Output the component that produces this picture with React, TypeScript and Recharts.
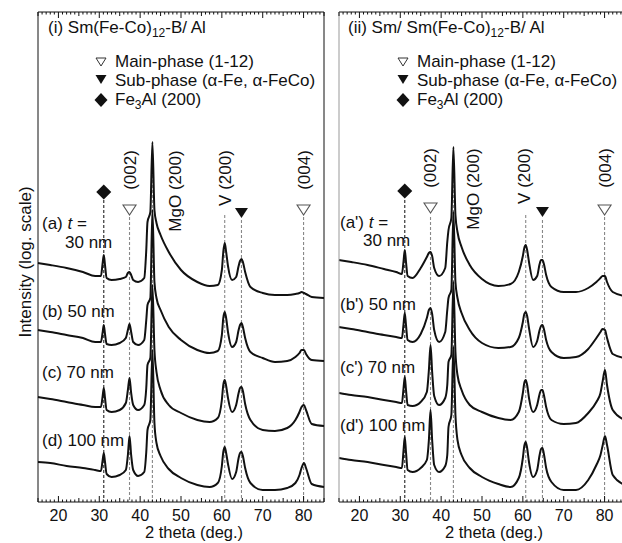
import React from 'react';
import { LineChart, Line, XAxis, YAxis, ReferenceLine, ReferenceDot } from 'recharts';

// 2 theta grid (deg.)
const twoTheta = [15, 18, 22, 26, 29, 30.4, 30.8, 31.1, 31.4, 31.8, 33, 35, 36.5, 37.0, 37.4, 37.8, 38.3, 39.5, 41, 41.5, 41.8, 42.5, 43, 43.5, 44, 45, 47, 50, 54, 57, 59, 60, 60.35, 60.7, 61.05, 61.5, 62.5, 63.5, 64.1, 64.45, 64.8, 65.15, 65.7, 67, 70, 73, 76, 78, 79, 79.5, 80.1, 80.6, 82, 85];

// stacked log-intensity traces, read top-down in plot units (12 = top, 502 = axis)
// (i) Sm(Fe-Co)12-B/ Al
const a30 = [263, 265, 268, 272, 276, 276, 264, 255, 265, 278, 280, 279, 277, 273, 272, 275, 280, 282, 278, 250, 222, 212, 142, 210, 223, 235, 252, 270, 282, 286, 285, 270, 252, 243, 252, 266, 280, 277, 266, 261, 259, 262, 272, 287, 293, 295, 295, 294, 293, 292, 293, 294, 297, 298];
const b50 = [330, 332, 335, 338, 342, 342, 333, 325, 334, 344, 345, 343, 338, 330, 324, 332, 342, 345, 340, 320, 305, 298, 210, 282, 298, 310, 327, 340, 350, 353, 351, 335, 318, 312, 318, 332, 347, 342, 330, 325, 323, 327, 338, 352, 358, 362, 361, 357, 353, 350, 350, 354, 360, 361];
const c70 = [397, 399, 402, 405, 407, 407, 397, 388, 398, 410, 412, 410, 403, 390, 378, 393, 405, 410, 405, 388, 365, 358, 285, 350, 372, 390, 405, 413, 420, 422, 418, 400, 385, 380, 386, 398, 412, 405, 393, 388, 387, 391, 404, 420, 430, 431, 428, 420, 412, 407, 405, 410, 424, 426];
const d100 = [462, 463, 466, 468, 470, 471, 461, 453, 462, 474, 477, 475, 470, 455, 436, 455, 470, 476, 472, 452, 430, 420, 350, 423, 443, 456, 469, 478, 485, 487, 483, 466, 452, 447, 453, 464, 479, 472, 458, 453, 452, 456, 468, 483, 490, 490, 488, 483, 475, 468, 463, 468, 484, 487];

// (ii) Sm/ Sm(Fe-Co)12-B/ Al
const a30p = [260, 262, 265, 269, 272, 274, 261, 250, 262, 276, 278, 268, 257, 253, 252, 256, 268, 276, 268, 242, 230, 218, 147, 215, 232, 247, 265, 279, 286, 284, 272, 256, 248, 245, 250, 262, 280, 276, 264, 260, 260, 264, 275, 287, 292, 292, 288, 282, 278, 276, 276, 282, 292, 296];
const b50p = [327, 329, 332, 335, 337, 338, 324, 313, 325, 340, 342, 334, 318, 310, 308, 314, 330, 342, 332, 310, 298, 290, 212, 282, 298, 313, 330, 343, 348, 347, 338, 322, 314, 312, 316, 328, 347, 341, 330, 326, 325, 329, 340, 352, 358, 357, 349, 338, 332, 329, 330, 338, 354, 358];
const c70p = [393, 395, 397, 400, 402, 403, 388, 377, 390, 405, 406, 402, 392, 370, 345, 372, 396, 405, 398, 385, 362, 355, 282, 352, 375, 390, 405, 412, 418, 420, 412, 393, 383, 380, 385, 398, 412, 405, 394, 390, 390, 395, 407, 420, 424, 423, 413, 402, 393, 382, 370, 385, 410, 420];
const d100p = [458, 460, 462, 465, 467, 468, 450, 437, 452, 470, 472, 468, 460, 440, 410, 440, 465, 472, 466, 455, 427, 415, 347, 415, 440, 455, 468, 477, 484, 487, 478, 458, 446, 442, 448, 462, 477, 470, 455, 449, 448, 454, 468, 482, 490, 490, 480, 465, 455, 446, 436, 445, 475, 485];

// peak positions: Fe3Al(200), (002), MgO(200), V(200), sub-phase, (004)
const peakPos = [31.1, 37.4, 43.0, 60.7, 64.8, 80.0];
const peakLineTop = [200, 217, 150, 215, 220, 217];
const peakLineColor = ['#222', '#888', '#888', '#888', '#888', '#888'];

const markerPos = [31.1, 37.4, 64.8, 80.0];
const markerKind = ['diamond', 'open', 'filled', 'open'];
const markerTopLeft = [192, 210, 213, 210];
const markerTopRight = [191, 208, 212, 210];

const xTicks = Array.from({ length: 71 }, (_, i) => 15 + i);
const xLabels = [20, 30, 40, 50, 60, 70, 80];

const FONT = '"Liberation Sans", Arial, Helvetica, sans-serif';
const INK = '#111';

function buildRows(s: number[][]) {
  return twoTheta.map((t, i) => ({ t, a: s[0][i], b: s[1][i], c: s[2][i], d: s[3][i] }));
}

function tickLen(v: number) {
  return v % 10 === 0 ? 6 : v % 5 === 0 ? 4 : 2.5;
}

const BottomTick = (p: any) => {
  const v = p.payload.value;
  return (
    <g>
      <line x1={p.x} x2={p.x} y1={p.y} y2={p.y - tickLen(v)} stroke={INK} strokeWidth={1} />
      {xLabels.includes(v) ? (
        <text x={p.x} y={p.y + 19} textAnchor="middle" fontFamily={FONT} fontSize={16} fill={INK}>
          {v}
        </text>
      ) : null}
    </g>
  );
};

const TopTick = (p: any) => {
  const v = p.payload.value;
  return <line x1={p.x} x2={p.x} y1={p.y} y2={p.y + tickLen(v)} stroke={INK} strokeWidth={1} />;
};

const markerShape = (kind: string) => (p: any) => {
  const { cx, cy } = p;
  if (kind === 'diamond') {
    return <polygon points={`${cx},${cy - 7.5} ${cx + 7.5},${cy} ${cx},${cy + 7.5} ${cx - 7.5},${cy}`} fill={INK} />;
  }
  const pts = `${cx - 6.5},${cy - 5} ${cx + 6.5},${cy - 5} ${cx},${cy + 5}`;
  return kind === 'filled' ? (
    <polygon points={pts} fill={INK} />
  ) : (
    <polygon points={pts} fill="#fff" stroke="#555" strokeWidth={1.1} />
  );
};

function Panel({ rows, markerTop, left, leftAxis }: { rows: any[]; markerTop: number[]; left: number; leftAxis: string }) {
  return (
    <div style={{ position: 'absolute', left, top: 0 }}>
      <LineChart width={330} height={543} data={rows} margin={{ top: 11, right: 5, bottom: 11, left: 37 }}>
        <XAxis
          dataKey="t"
          type="number"
          domain={[15, 85]}
          ticks={xTicks}
          interval={0}
          height={30}
          tickSize={0}
          tickMargin={0}
          tickLine={false}
          axisLine={{ stroke: INK }}
          tick={BottomTick}
        />
        <XAxis
          xAxisId="t"
          orientation="top"
          dataKey="t"
          type="number"
          domain={[15, 85]}
          ticks={xTicks}
          interval={0}
          height={1}
          tickSize={0}
          tickMargin={0}
          tickLine={false}
          axisLine={{ stroke: INK }}
          tick={TopTick}
        />
        <YAxis type="number" domain={[12, 502]} reversed width={1} tick={false} tickLine={false} axisLine={{ stroke: leftAxis }} allowDataOverflow />
        <YAxis yAxisId="r" orientation="right" type="number" domain={[12, 502]} reversed width={1} tick={false} tickLine={false} axisLine={{ stroke: INK }} />
        {peakPos.map((x, i) => (
          <ReferenceLine
            key={'l' + i}
            segment={[{ x, y: peakLineTop[i] }, { x, y: 502 }]}
            stroke={peakLineColor[i]}
            strokeDasharray="3 2"
            strokeWidth={1.1}
          />
        ))}
        {['a', 'b', 'c', 'd'].map((k) => (
          <Line key={k} dataKey={k} type="monotone" stroke={INK} strokeWidth={2} dot={false} isAnimationActive={false} />
        ))}
        {markerPos.map((x, i) => (
          <ReferenceDot key={'m' + i} x={x} y={markerTop[i]} r={7} shape={markerShape(markerKind[i])} />
        ))}
      </LineChart>
    </div>
  );
}

function Legend({ x }: { x: number }) {
  const sx = x + 4;
  const tx = x + 18;
  return (
    <g>
      <polygon points={`${sx - 5},${58} ${sx + 5},${58} ${sx},${66}`} fill="#fff" stroke="#333" strokeWidth={1} />
      <text x={tx} y={67}>Main-phase (1-12)</text>
      <polygon points={`${sx - 5.5},${75} ${sx + 5.5},${75} ${sx},${84}`} fill={INK} />
      <text x={tx} y={86}>Sub-phase (α-Fe, α-FeCo)</text>
      <polygon points={`${sx},${93} ${sx + 6.5},${100} ${sx},${107} ${sx - 6.5},${100}`} fill={INK} />
      <text x={tx} y={105}>
        Fe<tspan fontSize={12} dy={4}>3</tspan>
        <tspan dy={-4}>Al (200)</tspan>
      </text>
    </g>
  );
}

function VLabel({ x, y, children }: { x: number; y: number; children: React.ReactNode }) {
  return (
    <text transform={`translate(${x},${y}) rotate(-90)`} textAnchor="middle" dominantBaseline="central">
      {children}
    </text>
  );
}

export default function App() {
  const left = buildRows([a30, b50, c70, d100]);
  const right = buildRows([a30p, b50p, c70p, d100p]);
  return (
    <div style={{ position: 'absolute', left: 0, top: 0, width: 622, height: 543, overflow: 'hidden', background: '#fff' }}>
      <Panel rows={left} markerTop={markerTopLeft} left={0} leftAxis={INK} />
      <Panel rows={right} markerTop={markerTopRight} left={301} leftAxis="#999" />
      <svg width={622} height={543} style={{ position: 'absolute', left: 0, top: 0, pointerEvents: 'none' }} fontFamily={FONT} fontSize={17} fill={INK}>
        <text x={48} y={33}>
          (i) Sm(Fe-Co)<tspan fontSize={12} dy={4}>12</tspan>
          <tspan dy={-4}>-B/ Al</tspan>
        </text>
        <text x={348} y={33}>
          (ii) Sm/ Sm(Fe-Co)<tspan fontSize={12} dy={4}>12</tspan>
          <tspan dy={-4}>-B/ Al</tspan>
        </text>
        <Legend x={97} />
        <Legend x={399} />

        <VLabel x={130} y={170}>(002)</VLabel>
        <VLabel x={175} y={191}>MgO (200)</VLabel>
        <VLabel x={225} y={178}>V (200)</VLabel>
        <VLabel x={304} y={170}>(004)</VLabel>
        <VLabel x={430} y={168}>(002)</VLabel>
        <VLabel x={473} y={189}>MgO (200)</VLabel>
        <VLabel x={524} y={176}>V (200)</VLabel>
        <VLabel x={605} y={168}>(004)</VLabel>

        <text x={42} y={229}>
          (a) <tspan fontStyle="italic">t</tspan> =
        </text>
        <text x={65} y={248}>30 nm</text>
        <text x={42} y={317}>(b) 50 nm</text>
        <text x={42} y={378}>(c) 70 nm</text>
        <text x={42} y={446}>(d) 100 nm</text>

        <text x={340} y={228}>
          (a') <tspan fontStyle="italic">t</tspan> =
        </text>
        <text x={363} y={246}>30 nm</text>
        <text x={340} y={310}>(b') 50 nm</text>
        <text x={340} y={373}>(c') 70 nm</text>
        <text x={340} y={431}>(d') 100 nm</text>

        <VLabel x={25} y={262}>Intensity (log. scale)</VLabel>
        <text x={194} y={538} textAnchor="middle" fontSize={16.5}>2 theta (deg.)</text>
        <text x={494} y={538} textAnchor="middle" fontSize={16.5}>2 theta (deg.)</text>
      </svg>
    </div>
  );
}
